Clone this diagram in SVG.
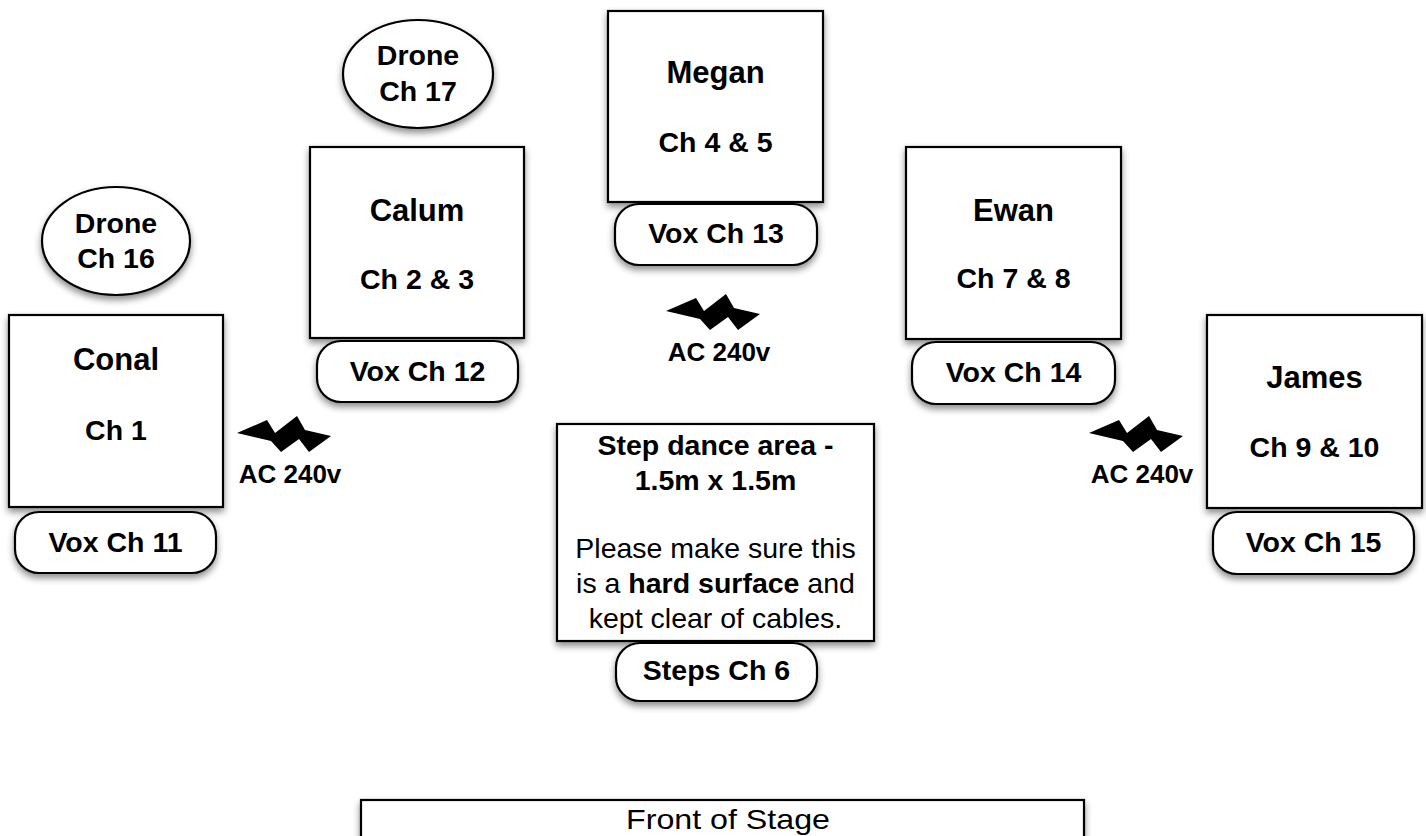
<svg xmlns="http://www.w3.org/2000/svg" xmlns:xlink="http://www.w3.org/1999/xlink" width="1426" height="836" viewBox="0 0 1426 836">
<style>
  .box { fill: #ffffff; stroke: #000000; stroke-width: 2.2; filter: url(#shadow); }
  .t { font-family: "Liberation Sans", Arial, Helvetica, sans-serif; font-size: 28.5px; fill: #000000; text-anchor: middle; }
  .b { font-weight: bold; }
  .name { font-size: 31px; font-weight: bold; }
  .ac { font-size: 26px; font-weight: bold; }
  .bolt { fill: #000000; }
</style>
<defs>
  <filter id="shadow" x="-20%" y="-20%" width="140%" height="150%">
    <feDropShadow dx="0" dy="4" stdDeviation="3.5" flood-color="#000000" flood-opacity="0.45"/>
  </filter>
  <path id="bolt" d="M0,17 L30,4 L38,17 L60,0 L68,14 L94,20 L72,36 L62,23 L44,36 L34,25 Z"/>
</defs>
<rect x="0" y="0" width="1426" height="836" fill="#ffffff"/>

<g id="connectors"></g>

<g id="drone16">
  <ellipse class="box" cx="116" cy="241" rx="74" ry="54"/>
  <text class="t b" x="116" y="233">Drone</text>
  <text class="t b" x="116" y="268">Ch 16</text>
</g>

<g id="conal">
  <rect class="box" x="9" y="315" width="214" height="192"/>
  <text class="t name" x="116" y="370">Conal</text>
  <text class="t b" x="116" y="440">Ch 1</text>
</g>
<g id="vox11">
  <rect class="box" x="15" y="512" width="201" height="61" rx="24" ry="24"/>
  <text class="t b" x="115.5" y="552">Vox Ch 11</text>
</g>
<g id="power-left">
  <use xlink:href="#bolt" class="bolt" x="237" y="416"/>
  <text class="t ac" x="290" y="483">AC 240v</text>
</g>

<g id="drone17">
  <ellipse class="box" cx="418" cy="74" rx="75" ry="54"/>
  <text class="t b" x="418" y="65">Drone</text>
  <text class="t b" x="418" y="101">Ch 17</text>
</g>

<g id="calum">
  <rect class="box" x="310" y="147" width="214" height="191"/>
  <text class="t name" x="417" y="221">Calum</text>
  <text class="t b" x="417" y="289">Ch 2 &amp; 3</text>
</g>
<g id="vox12">
  <rect class="box" x="317" y="341" width="201" height="61" rx="24" ry="24"/>
  <text class="t b" x="417.5" y="381">Vox Ch 12</text>
</g>

<g id="megan">
  <rect class="box" x="608" y="11" width="215" height="191"/>
  <text class="t name" x="715.5" y="83">Megan</text>
  <text class="t b" x="715.5" y="152">Ch 4 &amp; 5</text>
</g>
<g id="vox13">
  <rect class="box" x="615" y="204" width="202" height="61" rx="24" ry="24"/>
  <text class="t b" x="716" y="243">Vox Ch 13</text>
</g>
<g id="power-centre">
  <use xlink:href="#bolt" class="bolt" x="666" y="294"/>
  <text class="t ac" x="719" y="361">AC 240v</text>
</g>

<g id="ewan">
  <rect class="box" x="906" y="147" width="215" height="192"/>
  <text class="t name" x="1013.5" y="221">Ewan</text>
  <text class="t b" x="1013.5" y="288">Ch 7 &amp; 8</text>
</g>
<g id="vox14">
  <rect class="box" x="912" y="342" width="203" height="62" rx="24" ry="24"/>
  <text class="t b" x="1013.5" y="382">Vox Ch 14</text>
</g>

<g id="james">
  <rect class="box" x="1207" y="315" width="215" height="193"/>
  <text class="t name" x="1314.5" y="388">James</text>
  <text class="t b" x="1314.5" y="457">Ch 9 &amp; 10</text>
</g>
<g id="vox15">
  <rect class="box" x="1213" y="512" width="201" height="62" rx="24" ry="24"/>
  <text class="t b" x="1313.5" y="552">Vox Ch 15</text>
</g>
<g id="power-right">
  <use xlink:href="#bolt" class="bolt" x="1089" y="416"/>
  <text class="t ac" x="1142" y="483">AC 240v</text>
</g>

<g id="step-area">
  <rect class="box" x="557" y="424" width="317" height="217"/>
  <text class="t b" x="715.5" y="455">Step dance area -</text>
  <text class="t b" x="715.5" y="490">1.5m x 1.5m</text>
  <text class="t" x="715.5" y="558">Please make sure this</text>
  <text class="t" x="715.5" y="593">is a <tspan font-weight="bold">hard surface</tspan> and</text>
  <text class="t" x="715.5" y="628">kept clear of cables.</text>
</g>
<g id="steps6">
  <rect class="box" x="616" y="643" width="201" height="58" rx="24" ry="24"/>
  <text class="t b" x="716.5" y="680">Steps Ch 6</text>
</g>

<g id="front-of-stage">
  <rect class="box" x="361" y="800" width="723" height="60"/>
  <text class="t" x="728" y="829" font-size="30" textLength="204" lengthAdjust="spacingAndGlyphs">Front of Stage</text>
</g>
</svg>
